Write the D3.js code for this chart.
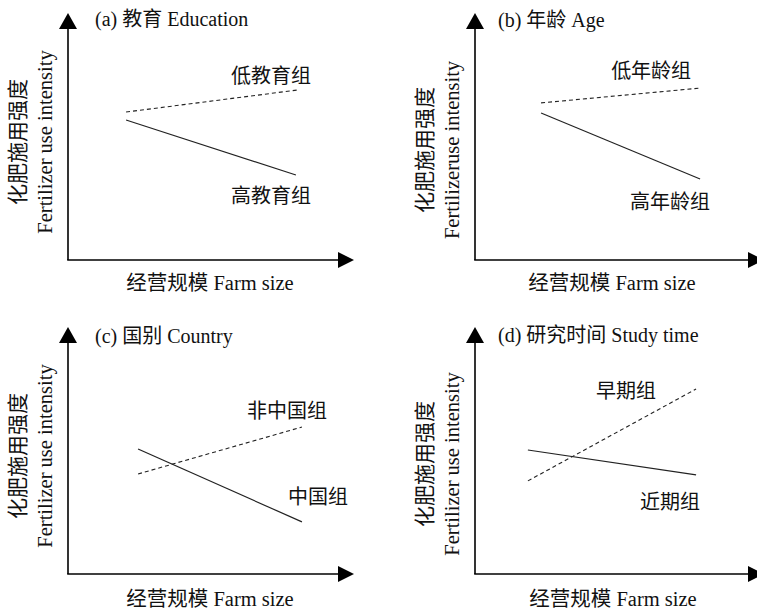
<!DOCTYPE html>
<html>
<head>
<meta charset="utf-8">
<script src="https://cdn.jsdelivr.net/npm/d3@7"></script>
<style>
  html, body { margin: 0; padding: 0; background: #fff; }
  text { font-family: "Liberation Serif", "Noto Sans CJK SC", serif; fill: #111; }
</style>
</head>
<body>
<svg id="chart" width="757" height="610"></svg>
<script>
// ---- data (abstract units 0..100 on each axis) ----
const panelIds = ["a", "b", "c", "d"];
const panelTitles = ["(a) 教育 Education", "(b) 年龄 Age", "(c) 国别 Country", "(d) 研究时间 Study time"];
const yLabelCN = ["化肥施用强度", "化肥施用强度", "化肥施用强度", "化肥施用强度"];
const yLabelEN = ["Fertilizer use intensity", "Fertilizeruse intensity", "Fertilizer use intensity", "Fertilizer use intensity"];
const xLabels = ["经营规模 Farm size", "经营规模 Farm size", "经营规模 Farm size", "经营规模 Farm size"];

const dashedNames = ["低教育组", "低年龄组", "非中国组", "早期组"];
const solidNames  = ["高教育组", "高年龄组", "中国组", "近期组"];

// [x, y] start and end of each trend line
const dashedX = [[20.3, 80.1], [23.1, 78.7], [24.5, 81.8], [18.5, 77.3]];
const dashedY = [[59.9, 68.8], [63.6, 69.6], [40.5, 59.5], [37.7, 74.9]];
const solidX  = [[20.3, 79.7], [23.1, 78.7], [24.5, 81.8], [18.5, 77.3]];
const solidY  = [[56.7, 34.4], [59.5, 32.8], [50.6, 21.1], [50.2, 40.1]];

// ---- layout ----
const layout = {
  origins: [[68, 260], [475, 260], [68, 574], [475, 574]],
  w: 286, h: 247,
  dashedLabelPos: [[57, 74.5], [47.6, 76.5], [62.6, 66], [42.3, 74.1]],
  solidLabelPos:  [[57, 25.9], [54.2, 23.5], [76.9, 31.2], [57.7, 29.1]],
  titleOff: [[27, -241], [23, -240], [27, -238], [23, -239]],
  yLabelCY: [-118, -110, -118, -110],
  xLabelCX: [142, 137, 142, 138],
  xLabelDY: [23, 23, 25, 25]
};

const svg = d3.select("#chart");

panelIds.forEach((id, i) => {
  const [ox, oy] = layout.origins[i];
  const x = d3.scaleLinear().domain([0, 100]).range([ox, ox + layout.w]);
  const y = d3.scaleLinear().domain([0, 100]).range([oy, oy - layout.h]);
  const g = svg.append("g").attr("class", "panel-" + id);

  // axes
  g.append("line").attr("x1", x(0)).attr("y1", y(0)).attr("x2", x(0)).attr("y2", y(100) + 10)
    .attr("stroke", "#000").attr("stroke-width", 1.6);
  g.append("line").attr("x1", x(0) - 0.8).attr("y1", y(0)).attr("x2", x(100) - 10).attr("y2", y(0))
    .attr("stroke", "#000").attr("stroke-width", 1.6);
  // arrows
  const tx = x(0), ty = y(100);
  g.append("path").attr("d", `M${tx},${ty} L${tx - 9},${ty + 16} L${tx + 9},${ty + 16} Z`).attr("fill", "#000");
  const rx = x(100) + (i % 2 === 1 ? 3 : 0), ry = y(0);
  g.append("path").attr("d", `M${rx},${ry} L${rx - 16},${ry - 8} L${rx - 16},${ry + 8} Z`).attr("fill", "#000");

  const line = d3.line().x(d => x(d[0])).y(d => y(d[1]));
  const dashedPts = dashedX[i].map((v, k) => [v, dashedY[i][k]]);
  const solidPts = solidX[i].map((v, k) => [v, solidY[i][k]]);

  g.append("path").attr("d", line(dashedPts)).attr("fill", "none")
    .attr("stroke", "#222").attr("stroke-width", 1.1).attr("stroke-dasharray", "4,3");
  g.append("path").attr("d", line(solidPts)).attr("fill", "none")
    .attr("stroke", "#222").attr("stroke-width", 1.2);

  // group labels
  const dl = layout.dashedLabelPos[i], sl = layout.solidLabelPos[i];
  g.append("text").attr("x", x(dl[0])).attr("y", y(dl[1])).attr("dominant-baseline", "central")
    .attr("font-size", 20).text(dashedNames[i]);
  g.append("text").attr("x", x(sl[0])).attr("y", y(sl[1])).attr("dominant-baseline", "central")
    .attr("font-size", 20).text(solidNames[i]);

  // title
  g.append("text").attr("x", ox + layout.titleOff[i][0]).attr("y", oy + layout.titleOff[i][1])
    .attr("dominant-baseline", "central").attr("font-size", 20).text(panelTitles[i]);

  // y label (two rotated lines)
  const cy = oy + layout.yLabelCY[i];
  g.append("text").attr("transform", `translate(${ox - 50},${cy}) rotate(-90)`)
    .attr("text-anchor", "middle").attr("dominant-baseline", "central")
    .attr("font-size", 21).text(yLabelCN[i]);
  g.append("text").attr("transform", `translate(${ox - 23},${cy}) rotate(-90)`)
    .attr("text-anchor", "middle").attr("dominant-baseline", "central")
    .attr("font-size", 20.5).text(yLabelEN[i]);

  // x label
  g.append("text").attr("x", ox + layout.xLabelCX[i]).attr("y", oy + layout.xLabelDY[i])
    .attr("text-anchor", "middle").attr("dominant-baseline", "central")
    .attr("font-size", 20.5).text(xLabels[i]);
});
</script>
</body>
</html>
